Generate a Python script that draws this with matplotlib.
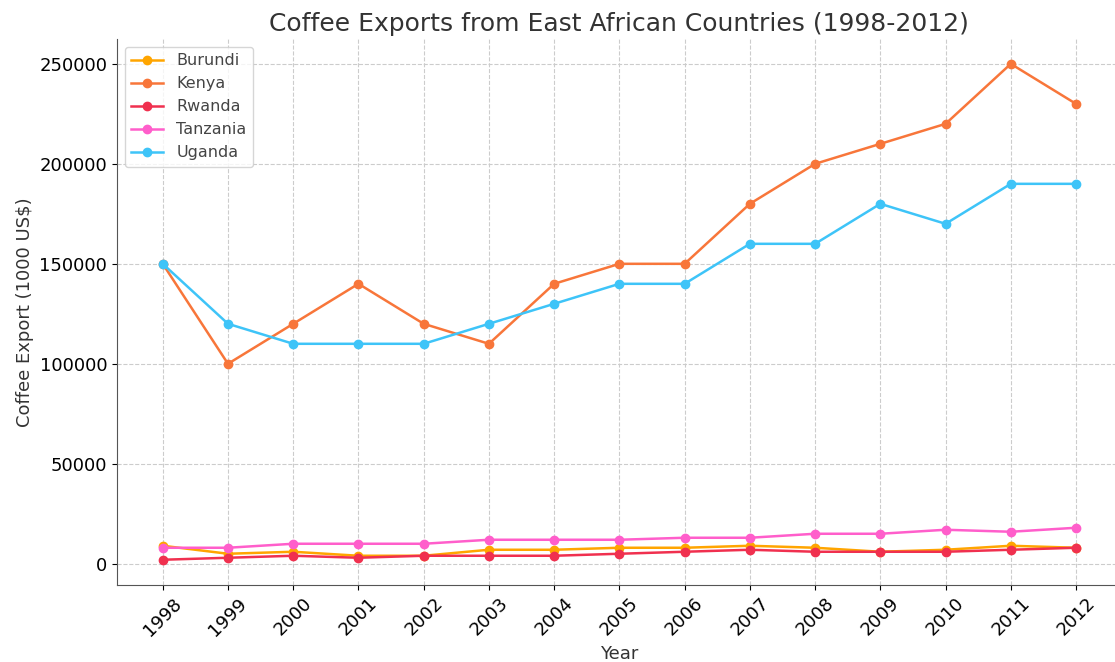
import matplotlib
matplotlib.use("Agg")
import matplotlib.pyplot as plt

# Data (1000 US$)
years = list(range(1998, 2013))
burundi = [9000, 5000, 6000, 4000, 4000, 7000, 7000, 8000, 8000, 9000, 8000, 6000, 7000, 9000, 8000]
kenya = [150000, 100000, 120000, 140000, 120000, 110000, 140000, 150000, 150000,
         180000, 200000, 210000, 220000, 250000, 230000]
rwanda = [2000, 3000, 4000, 3000, 4000, 4000, 4000, 5000, 6000, 7000, 6000, 6000, 6000, 7000, 8000]
tanzania = [8000, 8000, 10000, 10000, 10000, 12000, 12000, 12000, 13000, 13000,
            15000, 15000, 17000, 16000, 18000]
uganda = [150000, 120000, 110000, 110000, 110000, 120000, 130000, 140000, 140000,
          160000, 160000, 180000, 170000, 190000, 190000]

series = [
    ("Burundi", burundi, "#FFA500"),
    ("Kenya", kenya, "#F8763A"),
    ("Rwanda", rwanda, "#F0304F"),
    ("Tanzania", tanzania, "#FF5ECB"),
    ("Uganda", uganda, "#3EC4F8"),
]

fig, ax = plt.subplots(figsize=(11.15, 6.62), dpi=100)
# the reference is cropped slightly on the right, so the axes run past the edge
fig.subplots_adjust(left=0.105, right=1.006, top=0.941, bottom=0.117)

for name, values, color in series:
    ax.plot(years, values, marker="o", markersize=6, linewidth=1.8, color=color, label=name)

ax.set_title("Coffee Exports from East African Countries (1998-2012)", fontsize=18, color="#333333")
ax.set_xlabel("Year", fontsize=13, color="#333333")
ax.set_ylabel("Coffee Export (1000 US$)", fontsize=13, color="#333333")
ax.set_xticks(years)
ax.set_xticklabels([str(y) for y in years], rotation=45, fontsize=13)
ax.tick_params(axis="y", labelsize=13)
ax.grid(True, linestyle="--", color="#cccccc", linewidth=0.8)
ax.set_axisbelow(True)

for side in ["top", "right"]:
    ax.spines[side].set_visible(False)
ax.spines["left"].set_color("#555555")
ax.spines["bottom"].set_color("#555555")

ax.legend(loc="upper left", fontsize=11.5, labelcolor="#444444")

plt.savefig("out.png", dpi=100)
